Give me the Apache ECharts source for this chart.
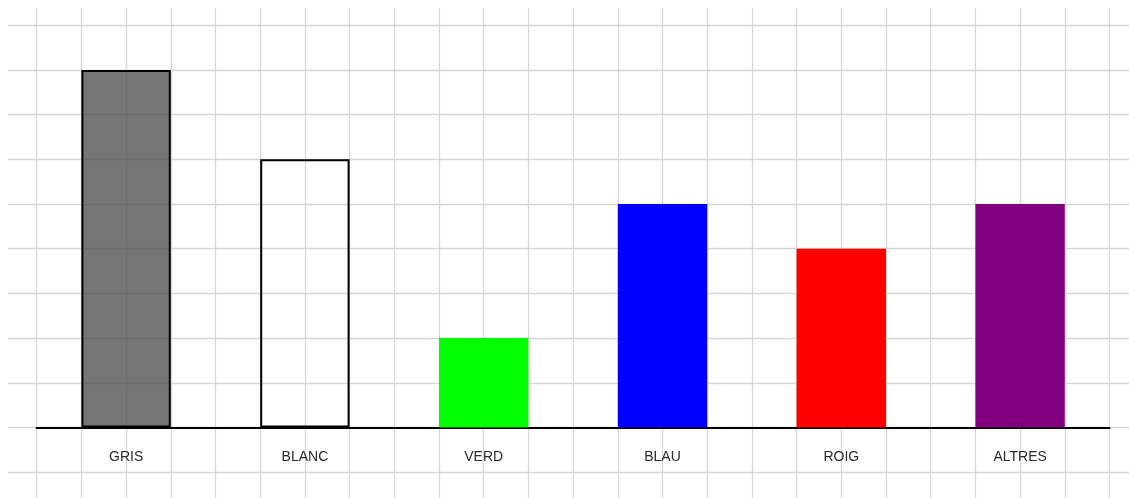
<!DOCTYPE html>
<html>
<head>
<meta charset="utf-8">
<script src="https://cdn.jsdelivr.net/npm/echarts@6/dist/echarts.min.js"></script>
<style>
html,body{margin:0;padding:0;background:#fff;}
#chart{width:1129px;height:498px;}
</style>
</head>
<body>
<div id="chart"></div>
<script>
// Data
const categories = ['GRIS', 'BLANC', 'VERD', 'BLAU', 'ROIG', 'ALTRES'];
const values = [8, 6, 2, 5, 4, 5];

// Styles (kept separate from data)
const barFills = ['rgba(80,80,80,0.79)', 'rgba(255,255,255,0)', '#00ff00', '#0000ff', '#ff0000', '#800080'];
const barBorders = [2, 2, 0, 0, 0, 0];

const chart = echarts.init(document.getElementById('chart'));
const gridLine = { show: true, lineStyle: { color: '#d6d6d6', width: 1.3 } };

const option = {
  animation: false,
  backgroundColor: '#ffffff',
  grid: [
    { left: -8, right: -25.2, top: -19.5, bottom: -18.9, outerBoundsMode: 'none', containLabel: false },
    { left: 36.7, right: 19.5, top: 69.9, bottom: 70.5, outerBoundsMode: 'none', containLabel: false }
  ],
  xAxis: [
    { gridIndex: 0, type: 'value', min: -1, max: 25, interval: 1,
      axisLine: { show: false }, axisTick: { show: false }, axisLabel: { show: false },
      splitLine: gridLine },
    { gridIndex: 1, type: 'category', data: categories,
      axisLine: { show: true, lineStyle: { color: '#000', width: 2 } },
      axisTick: { show: false },
      splitLine: { show: false },
      axisLabel: { color: '#2a2a2a', fontFamily: 'Liberation Sans, Arial, sans-serif', fontSize: 14, margin: 23 } }
  ],
  yAxis: [
    { gridIndex: 0, type: 'value', min: -2, max: 10, interval: 1,
      axisLine: { show: false }, axisTick: { show: false }, axisLabel: { show: false },
      splitLine: gridLine },
    { gridIndex: 1, type: 'value', min: 0, max: 8,
      axisLine: { show: false }, axisTick: { show: false }, axisLabel: { show: false },
      splitLine: { show: false } }
  ],
  graphic: [
    { type: 'rect', z: 100, shape: { x: 0, y: 0, width: 1129, height: 8 }, style: { fill: '#fff' } },
    { type: 'rect', z: 100, shape: { x: 0, y: 0, width: 8, height: 498 }, style: { fill: '#fff' } }
  ],
  series: [{
    type: 'bar',
    xAxisIndex: 1,
    yAxisIndex: 1,
    barWidth: '50%',
    data: values.map((v, i) => ({
      value: v,
      itemStyle: { color: barFills[i], borderColor: '#000', borderWidth: barBorders[i] }
    }))
  }]
};
chart.setOption(option);
</script>
</body>
</html>
